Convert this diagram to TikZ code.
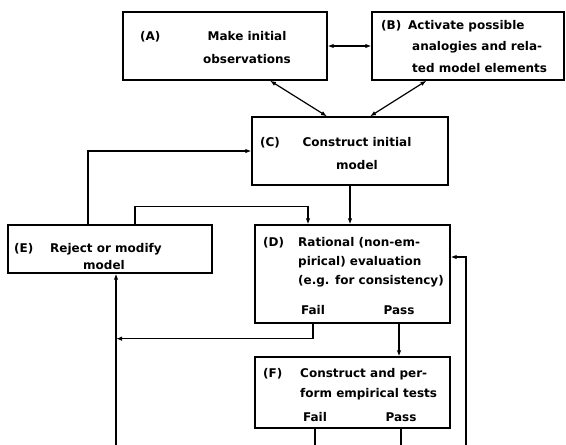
\documentclass[tikz,border=0pt]{standalone}
\usepackage{fontspec}
\setmainfont{DejaVu Sans}
\usetikzlibrary{arrows.meta}
\tikzset{
  stage/.style={draw, line width=1.3pt, inner sep=0pt},
  txt/.style={anchor=base west, inner sep=0pt, font=\bfseries\fontsize{12}{#1}\selectfont},
  txt/.default=19,
  flow/.style={line width=1.2pt, -{Latex[length=6pt,width=4.5pt]}},
  both/.style={line width=1.2pt, {Latex[length=6pt,width=4.5pt]}-{Latex[length=6pt,width=4.5pt]}},
}
\begin{document}
\begin{tikzpicture}[x=1pt,y=-1pt]
  \useasboundingbox (0,0) rectangle (566,445);
  \node[stage, minimum width=204pt, minimum height=68pt] (A) at (225,46) {};
  \node[stage, minimum width=192pt, minimum height=68pt] (B) at (468,46) {};
  \node[stage, minimum width=196pt, minimum height=68pt] (C) at (350,151) {};
  \node[stage, minimum width=195pt, minimum height=98pt] (D) at (352.5,274) {};
  \node[stage, minimum width=204pt, minimum height=48pt] (E) at (110,249) {};
  \node[stage, minimum width=195pt, minimum height=71pt] (F) at (352.5,392.5) {};

  \node[txt] (Atag) at (140,40) {(A)};
  \node[txt=23, anchor=base] (Atext) at (247,40)
    {\begin{tabular}[t]{@{}c@{}}Make initial\\observations\end{tabular}};
  \node[txt] (Btag) at (381,29) {(B)};
  \node[txt=21.5] (Btext) at (408,29)
    {\begin{tabular}[t]{@{}l@{}}Activate possible\\\hspace{4pt}analogies and rela-\\\hspace{4pt}ted model elements\end{tabular}};
  \node[txt] (Ctag) at (260,146) {(C)};
  \node[txt=23, anchor=base] (Ctext) at (357,146)
    {\begin{tabular}[t]{@{}c@{}}Construct initial\\model\end{tabular}};
  \node[txt] (Dtag) at (263,246) {(D)};
  \node[txt] (Dtext) at (298,246)
    {\begin{tabular}[t]{@{}l@{}}Rational (non-em-\\pirical) evaluation\\(e.g. for consistency)\end{tabular}};
  \node[txt] (Etag) at (14,252) {(E)};
  \node[txt=17] (Etext) at (50,252)
    {\begin{tabular}[t]{@{}l@{}}Reject or modify\\\hspace{33pt}model\end{tabular}};
  \node[txt] (Ftag) at (263,377) {(F)};
  \node[txt=20] (Ftext) at (300,377)
    {\begin{tabular}[t]{@{}l@{}}Construct and per-\\form empirical tests\end{tabular}};
  \node[txt, anchor=base] (dfail) at (313,314) {Fail};
  \node[txt, anchor=base] (dpass) at (399,314) {Pass};
  \node[txt, anchor=base] (ffail) at (315,421) {Fail};
  \node[txt, anchor=base] (fpass) at (401,421) {Pass};

  \coordinate (bottom) at (0,445);
  \coordinate (eb) at (116,445);
  \coordinate (rb) at (466,445);

  \begin{scope}[flow]
    \draw[both] (A) -- (B);
    \draw[both] ([xshift=-23pt]C.north) -- ([xshift=45pt]A.south);
    \draw[both] ([xshift=20pt]C.north) -- ([xshift=-41.5pt]B.south);
    \draw ([xshift=-22pt]E.north) |- (C.west);
    \draw ([xshift=25pt]E.north) -- ++(0,-18) -| ([xshift=-44.5pt]D.north);
    \draw (C.south) -- (C.south |- D.north);
    \draw (dfail |- D.south) -- ++(0,15) coordinate (dj) -- (dj -| eb);
    \draw (eb) -- (eb |- E.south);
    \draw (dpass |- D.south) -- (dpass |- F.north);
    \draw (rb) |- ([yshift=17pt]D.east);
    \draw[-] (ffail |- F.south) -- (ffail |- bottom);
    \draw[-] (fpass |- F.south) -- (fpass |- bottom);
  \end{scope}
\end{tikzpicture}
\end{document}
